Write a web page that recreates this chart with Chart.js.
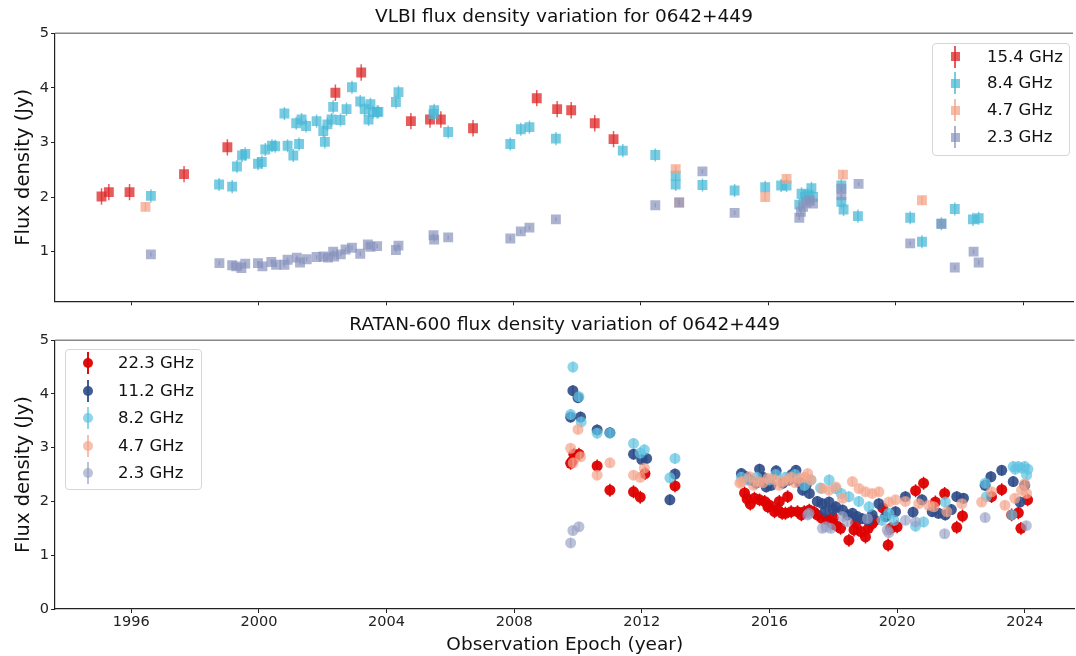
<!DOCTYPE html>
<html>
<head>
<meta charset="utf-8">
<script src="https://cdn.jsdelivr.net/npm/chart.js@4.4.0/dist/chart.umd.min.js"></script>
<style>
html, body { margin: 0; padding: 0; background: #fff; overflow: hidden; width: 1076px; height: 656px; }
#wrap { position: relative; width: 1076px; height: 656px; font-family: "DejaVu Sans", sans-serif; }
canvas { position: absolute; left: 0; }
#topChart { top: 0; }
#bottomChart { top: 312px; }
.legend { position: absolute; background: rgba(255,255,255,0.85); border: 1px solid #d6d6d6; border-radius: 4px; box-sizing: border-box; }
.lab { position: absolute; font-size: 16.5px; line-height: 20px; color: #111; white-space: nowrap; }
.bar { position: absolute; width: 1.5px; }
.mk { position: absolute; }
</style>
</head>
<body>
<div id="wrap">
  <canvas id="topChart" width="1080" height="312"></canvas>
  <canvas id="bottomChart" width="1080" height="344"></canvas>
</div>
<script>
// ---- data (year, flux density in Jy) ----
const yearTicks = [1996, 2000, 2004, 2008, 2012, 2016, 2020, 2024];
const vlbiTicks = [1, 2, 3, 4, 5];
const ratanTicks = [0, 1, 2, 3, 4, 5];

const vlbiLabels = ['15.4 GHz', '8.4 GHz', '4.7 GHz', '2.3 GHz'];
const ratanLabels = ['22.3 GHz', '11.2 GHz', '8.2 GHz', '4.7 GHz', '2.3 GHz'];

const vlbi15 = [[1995.07,2.01],[1995.3,2.09],[1995.95,2.09],[1997.66,2.42],[1999.02,2.91],[2002.41,3.91],
  [2003.22,4.28],[2004.78,3.39],[2005.38,3.42],[2005.72,3.42],[2006.73,3.26],[2008.73,3.81],[2009.37,3.61],
  [2009.81,3.59],[2010.55,3.35],[2011.14,3.06]];
const vlbi8 = [[1996.62,2.02],[1998.76,2.23],[1999.17,2.19],[1999.32,2.56],[1999.48,2.76],[1999.58,2.79],
  [1999.98,2.61],[2000.1,2.64],[2000.21,2.87],[2000.42,2.94],[2000.52,2.93],[2000.81,3.53],[2000.91,2.94],
  [2001.09,2.76],[2001.18,3.35],[2001.27,2.97],[2001.35,3.42],[2001.49,3.3],[2001.82,3.39],[2002.03,3.21],
  [2002.08,3.01],[2002.16,3.33],[2002.34,3.65],[2002.29,3.42],[2002.57,3.41],[2002.76,3.61],[2002.93,4.01],
  [2003.19,3.75],[2003.33,3.61],[2003.45,3.42],[2003.51,3.7],[2003.59,3.55],[2003.72,3.56],[2003.76,3.56],
  [2004.31,3.74],[2004.39,3.92],[2005.51,3.59],[2005.49,3.52],[2005.95,3.19],[2007.9,2.97],[2008.23,3.24],
  [2008.5,3.28],[2009.33,3.07],[2011.43,2.85],[2012.45,2.77],[2013.09,2.39],[2013.09,2.23],[2013.93,2.22],
  [2014.94,2.12],[2015.9,2.18],[2016.4,2.21],[2016.57,2.21],[2016.97,1.86],[2017.04,2.06],[2017.15,2.0],
  [2017.23,2.04],[2017.35,2.16],[2017.4,2.0],[2018.29,2.21],[2018.29,1.91],[2018.36,1.77],[2018.81,1.65],
  [2020.45,1.62],[2020.82,1.18],[2021.43,1.51],[2021.85,1.78],[2022.42,1.59],[2022.6,1.61]];
const vlbi4 = [[1996.45,1.82],[2013.09,2.51],[2013.2,1.9],[2015.9,2.0],[2016.57,2.33],[2018.34,2.41],[2020.82,1.94]];
const vlbi2 = [[1996.62,0.95],[1998.77,0.79],[1999.17,0.75],[1999.3,0.73],[1999.46,0.7],[1999.58,0.78],
  [1999.98,0.79],[2000.12,0.73],[2000.4,0.81],[2000.55,0.76],[2000.81,0.76],[2000.91,0.85],[2001.2,0.89],
  [2001.3,0.8],[2001.51,0.86],[2001.82,0.9],[2002.03,0.91],[2002.18,0.89],[2002.34,1.0],[2002.37,0.91],
  [2002.58,0.95],[2002.73,1.04],[2002.93,1.07],[2003.19,0.96],[2003.43,1.13],[2003.51,1.09],[2003.72,1.1],
  [2004.31,1.03],[2004.39,1.11],[2005.49,1.3],[2005.51,1.22],[2005.95,1.26],[2007.9,1.24],[2008.23,1.37],
  [2008.5,1.44],[2009.33,1.59],[2012.45,1.85],[2013.2,1.9],[2013.93,2.47],[2014.94,1.71],[2016.97,1.62],
  [2017.02,1.73],[2017.09,1.82],[2017.2,1.9],[2017.3,1.94],[2017.4,1.88],[2018.29,2.15],[2018.29,2.03],
  [2018.83,2.24],[2020.45,1.15],[2021.43,1.51],[2021.85,0.71],[2022.44,1.0],[2022.6,0.8]];

const ratan22 = [[2009.77,2.71],[2009.87,2.88],[2010.03,2.88],[2009.82,2.75],[2010.6,2.66],[2011.0,2.21],
  [2011.74,2.18],[2011.95,2.08],[2012.1,2.52],[2013.04,2.29],
  [2015.22,2.16],[2015.3,2.05],[2015.4,1.95],[2015.53,2.06],[2015.69,2.03],[2015.85,2.0],[2015.95,1.9],
  [2016.0,1.93],[2016.16,1.81],[2016.25,1.85],[2016.31,2.0],[2016.4,1.78],[2016.5,1.78],[2016.57,2.09],
  [2016.68,1.81],[2016.88,1.81],[2017.0,1.75],[2017.09,1.81],[2017.25,1.84],[2017.4,1.8],[2017.5,1.75],
  [2017.66,1.68],[2017.82,1.65],[2017.97,1.59],[2018.0,1.7],[2018.1,1.55],[2018.23,1.5],[2018.49,1.28],
  [2018.65,1.47],[2018.7,1.6],[2018.86,1.44],[2019.01,1.34],[2019.1,1.5],[2019.22,1.59],[2019.3,1.65],
  [2019.55,1.88],[2019.72,1.19],[2019.8,1.5],[2020.0,1.53],[2020.58,2.2],[2020.83,2.34],[2021.2,1.99],
  [2021.49,2.15],[2021.87,1.52],[2022.05,1.73],[2022.96,2.09],[2023.28,2.22],[2023.59,1.75],[2023.8,1.79],
  [2023.88,1.5],[2024.09,2.03]];
const ratan11 = [[2009.84,4.06],[2009.77,3.57],[2010.08,3.57],[2010.0,3.93],[2010.6,3.33],[2011.0,3.28],
  [2011.74,2.88],[2012.0,2.78],[2012.15,2.8],[2013.04,2.51],[2012.88,2.03],
  [2015.12,2.52],[2015.27,2.46],[2015.4,2.4],[2015.58,2.34],[2015.69,2.6],[2015.8,2.45],[2015.9,2.27],
  [2016.05,2.3],[2016.21,2.57],[2016.42,2.34],[2016.62,2.4],[2016.7,2.5],[2016.83,2.58],[2016.95,2.35],
  [2017.04,2.21],[2017.15,2.3],[2017.25,2.15],[2017.5,2.0],[2017.66,1.96],[2017.75,1.82],[2017.87,1.99],
  [2018.0,1.85],[2018.08,1.9],[2018.29,1.84],[2018.45,1.75],[2018.6,1.78],[2018.75,1.72],[2018.91,1.68],
  [2019.1,1.65],[2019.22,1.75],[2019.43,1.96],[2019.64,1.72],[2019.95,1.81],[2020.26,2.09],[2020.5,1.8],
  [2020.78,2.03],[2021.1,1.81],[2021.3,1.78],[2021.51,1.75],[2021.7,1.85],[2021.87,2.09],[2022.08,2.06],
  [2022.76,2.3],[2022.94,2.46],[2023.28,2.58],[2023.64,2.37],[2023.85,1.99],[2024.0,2.3]];
const ratan8 = [[2009.84,4.5],[2010.03,3.95],[2009.77,3.62],[2010.1,3.48],[2010.6,3.27],[2011.0,3.27],
  [2011.74,3.08],[2012.08,2.96],[2011.95,2.9],[2013.04,2.8],[2012.88,2.44],
  [2015.12,2.45],[2015.3,2.4],[2015.6,2.45],[2016.0,2.4],[2016.2,2.5],[2016.5,2.45],[2016.8,2.5],
  [2017.1,2.3],[2017.3,2.4],[2017.6,2.25],[2017.87,2.4],[2018.08,2.24],[2018.25,2.15],[2018.49,2.09],
  [2018.8,2.0],[2019.12,1.9],[2019.53,1.65],[2019.74,1.78],[2019.9,1.65],[2020.58,1.54],[2020.83,1.62],
  [2021.51,1.99],[2022.76,2.34],[2022.8,2.09],[2023.6,1.75],[2023.64,2.65],[2023.7,2.6],[2023.8,2.65],
  [2023.9,2.62],[2024.0,2.65],[2024.06,2.49],[2024.1,2.6]];
const ratan4 = [[2009.77,2.99],[2010.0,3.34],[2010.08,2.83],[2009.85,2.72],[2010.6,2.49],[2011.0,2.72],
  [2011.74,2.49],[2011.95,2.45],[2012.08,2.62],
  [2015.07,2.34],[2015.12,2.37],[2015.38,2.46],[2015.5,2.3],[2015.64,2.37],[2015.8,2.35],[2015.95,2.43],
  [2016.16,2.41],[2016.3,2.3],[2016.42,2.37],[2016.55,2.4],[2016.68,2.45],[2016.8,2.35],[2016.94,2.43],
  [2017.1,2.45],[2017.2,2.52],[2017.3,2.4],[2017.66,2.24],[2017.87,2.21],[2018.08,2.27],[2018.29,2.06],
  [2018.6,2.37],[2018.81,2.24],[2019.01,2.18],[2019.22,2.15],[2019.43,2.18],[2019.74,1.99],[2019.95,2.03],
  [2020.26,2.0],[2020.68,1.96],[2020.99,1.93],[2021.15,1.9],[2021.56,1.81],[2022.03,1.96],[2022.65,1.99],
  [2022.96,2.18],[2023.38,1.93],[2023.69,2.06],[2023.9,2.21],[2024.0,2.33],[2024.06,2.15]];
const ratan2 = [[2009.77,1.23],[2009.84,1.46],[2010.03,1.53],[2017.2,1.75],[2017.24,1.78],[2017.66,1.5],
  [2017.77,1.53],[2017.92,1.5],[2018.29,1.72],[2018.44,1.62],[2019.07,1.68],[2019.69,1.47],[2019.74,1.42],
  [2020.26,1.65],[2020.58,1.62],[2021.49,1.4],[2022.76,1.7],[2024.05,1.55]];

// ---- styling ----
const FONT = 'DejaVu Sans';
const AXIS = '#222';
const vlbiColors = ['rgba(222,38,38,0.75)', 'rgba(75,185,215,0.75)', 'rgba(244,160,130,0.7)', 'rgba(135,147,188,0.7)'];
const vlbiErr = [0.15, 0.12, 0.08, 0.04];
const ratanColors = ['rgba(222,0,0,0.95)', 'rgba(45,75,135,0.9)', 'rgba(95,195,225,0.7)', 'rgba(244,165,140,0.7)', 'rgba(150,160,195,0.65)'];
const ratanErr = [0.12, 0.1, 0.1, 0.08, 0.08];

const errorBars = {
  id: 'errorBars',
  beforeDatasetDraw(chart, args) {
    const ds = chart.data.datasets[args.index];
    const ys = chart.scales.y;
    const ctx = chart.ctx;
    ctx.save();
    ctx.strokeStyle = ds.borderColor;
    ctx.lineWidth = 1.5;
    ctx.beginPath();
    args.meta.data.forEach((pt, i) => {
      const d = ds.data[i];
      ctx.moveTo(pt.x, ys.getPixelForValue(d.y + ds.err));
      ctx.lineTo(pt.x, ys.getPixelForValue(d.y - ds.err));
    });
    ctx.stroke();
    ctx.restore();
  }
};

const topSpine = {
  id: 'topSpine',
  afterDraw(chart) {
    const a = chart.chartArea, ctx = chart.ctx;
    ctx.save();
    ctx.strokeStyle = '#888';
    ctx.lineWidth = 1.5;
    ctx.beginPath();
    ctx.moveTo(a.left, a.top);
    ctx.lineTo(a.right, a.top);
    ctx.stroke();
    ctx.restore();
  }
};

function toPoints(arr) {
  return arr.map(p => ({ x: p[0], y: p[1] }));
}

function makeDatasets(series, labels, colors, errs, style, radius) {
  return series.map((s, i) => ({
    label: labels[i],
    data: toPoints(s),
    err: errs[i],
    pointStyle: style,
    pointRadius: radius,
    pointHoverRadius: radius,
    backgroundColor: colors[i],
    borderColor: colors[i],
    borderWidth: 0,
    showLine: false,
    order: series.length - i
  }));
}

function makeChart(id, datasets, opt) {
  return new Chart(document.getElementById(id), {
    type: 'scatter',
    data: { datasets: datasets },
    plugins: [errorBars, topSpine],
    options: {
      responsive: false,
      animation: false,
      layout: { padding: 0 },
      plugins: {
        legend: { display: false },
        tooltip: { enabled: false },
        title: {
          display: true, text: opt.title, color: '#111', fullSize: false,
          font: { family: FONT, size: 18.5, weight: 'normal' },
          padding: opt.titlePad
        }
      },
      scales: {
        x: {
          type: 'linear', min: 1993.61, max: 2025.56,
          afterBuildTicks: s => { s.ticks = yearTicks.map(v => ({ value: v })); },
          afterFit: s => { s.height = opt.xHeight; },
          ticks: { display: opt.showX, color: AXIS, padding: 1, maxRotation: 0,
                   font: { family: FONT, size: 14.5 }, callback: v => String(v) },
          grid: { drawOnChartArea: false, drawTicks: true, tickLength: 4, color: AXIS },
          border: { color: AXIS, width: 1.2 },
          title: { display: opt.showX, text: 'Observation Epoch (year)', color: '#111',
                   font: { family: FONT, size: 18.5 }, padding: { top: 0, bottom: 0 } }
        },
        y: {
          min: opt.yMin, max: 5,
          afterBuildTicks: s => { s.ticks = opt.yTicks.map(v => ({ value: v })); },
          afterFit: s => { s.width = 55; },
          ticks: { color: AXIS, padding: 2, font: { family: FONT, size: 14.5 }, callback: v => String(v) },
          grid: { drawOnChartArea: false, drawTicks: true, tickLength: 4, color: AXIS },
          border: { color: AXIS, width: 1.2 },
          title: { display: true, text: 'Flux density (Jy)', color: '#111',
                   font: { family: FONT, size: 19.5 }, padding: { top: 12.5, bottom: 0 } }
        }
      }
    }
  });
}

makeChart('topChart',
  makeDatasets([vlbi15, vlbi8, vlbi4, vlbi2], vlbiLabels, vlbiColors, vlbiErr, 'rect', 7),
  { title: 'VLBI flux density variation for 0642+449', titlePad: { top: 6.5, bottom: 4.5 },
    xHeight: 9, showX: false, yMin: 0.09, yTicks: vlbiTicks });

makeChart('bottomChart',
  makeDatasets([ratan22, ratan11, ratan8, ratan4, ratan2], ratanLabels, ratanColors, ratanErr, 'circle', 5.5),
  { title: 'RATAN-600 flux density variation of 0642+449', titlePad: { top: 2, bottom: 4 },
    xHeight: 47, showX: true, yMin: 0, yTicks: ratanTicks });

// ---- legends (html) ----
function buildLegend(box, labels, colors, rowY, markX, textX, square) {
  const wrap = document.getElementById('wrap');
  const b = document.createElement('div');
  b.className = 'legend';
  Object.assign(b.style, { left: box[0] + 'px', top: box[1] + 'px', width: box[2] + 'px', height: box[3] + 'px' });
  wrap.appendChild(b);
  labels.forEach((t, i) => {
    const y = rowY[i];
    const bar = document.createElement('div');
    bar.className = 'bar';
    Object.assign(bar.style, { left: (markX - 0.75) + 'px', top: (y - 11) + 'px', height: '22px', background: colors[i] });
    wrap.appendChild(bar);
    const m = document.createElement('div');
    m.className = 'mk';
    const s = square ? 9 : 10;
    Object.assign(m.style, { left: (markX - s / 2) + 'px', top: (y - s / 2) + 'px', width: s + 'px', height: s + 'px',
      background: colors[i], borderRadius: square ? '0' : '50%' });
    wrap.appendChild(m);
    const l = document.createElement('div');
    l.className = 'lab';
    l.textContent = t;
    Object.assign(l.style, { left: textX + 'px', top: (y - 10) + 'px' });
    wrap.appendChild(l);
  });
}

buildLegend([932, 43, 138, 113], vlbiLabels, vlbiColors, [56.7, 83.3, 110, 137.3], 955, 987, true);
buildLegend([65, 349, 137, 141], ratanLabels, ratanColors, [363.3, 390.7, 418.3, 445.7, 472.7], 88, 118, false);
</script>
</body>
</html>
